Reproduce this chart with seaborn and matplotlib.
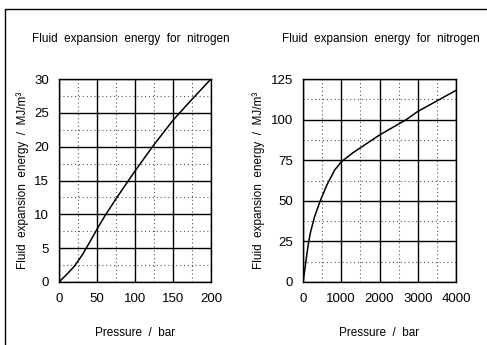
import matplotlib
matplotlib.use("Agg")
import matplotlib.pyplot as plt
import seaborn as sns
import pandas as pd
from matplotlib.lines import Line2D
from matplotlib.ticker import MultipleLocator

# Data
p_low = [0, 10, 20, 30, 40, 50, 60, 75, 100, 125, 150, 175, 200]
e_low = [0, 1.1, 2.3, 3.9, 5.8, 7.8, 9.7, 12.3, 16.4, 20.3, 23.9, 27.0, 30.0]
p_high = [0, 50, 100, 150, 200, 300, 450, 630, 830, 1000, 1300, 2000, 2700, 3000, 3500, 4000]
e_high = [0, 8, 17, 25, 31, 40, 50, 60, 69, 74, 79.5, 90.5, 100, 105, 111.5, 118]

title = "Fluid  expansion  energy  for  nitrogen"
xlabel = "Pressure  /  bar"
ylabel = "Fluid  expansion  energy  /  MJ/m³"

sns.set_theme(style="white")
plt.rcParams["font.family"] = ["Liberation Sans", "DejaVu Sans"]

W, H = 487, 345
fig = plt.figure(figsize=(W / 100, H / 100), dpi=100)
fig.patch.set_facecolor("white")

def make_ax(left, right, top, bottom):
    return fig.add_axes([left / W, 1 - bottom / H, (right - left) / W, (bottom - top) / H])

ax1 = make_ax(59, 211, 79, 282)
ax2 = make_ax(303, 456, 79, 282)

df1 = pd.DataFrame({"p": p_low, "e": e_low})
df2 = pd.DataFrame({"p": p_high, "e": e_high})

specs = [
    (ax1, df1, (0, 200), (0, 30), 50, 5, 131),
    (ax2, df2, (0, 4000), (0, 125), 1000, 25, 381),
]
for ax, df, xl, yl, xmaj, ymaj, tx in specs:
    ax.set_xlim(*xl)
    ax.set_ylim(*yl)
    ax.xaxis.set_major_locator(MultipleLocator(xmaj))
    ax.yaxis.set_major_locator(MultipleLocator(ymaj))
    ax.xaxis.set_minor_locator(MultipleLocator(xmaj / 2))
    ax.yaxis.set_minor_locator(MultipleLocator(ymaj / 2))
    ax.grid(which="major", color="black", linewidth=1.0, linestyle="-")
    ax.grid(which="minor", color="#555555", linewidth=0.8, linestyle=(0, (1, 2.5)))
    ax.set_axisbelow(True)
    sns.lineplot(data=df, x="p", y="e", ax=ax, color="black", linewidth=1.1)
    for s in ax.spines.values():
        s.set_color("black")
        s.set_linewidth(1.0)
    ax.tick_params(which="both", length=0, labelsize=9.5, colors="black")
    ax.tick_params(axis="x", pad=8)
    ax.tick_params(axis="y", pad=7)
    ax.set_xlabel(xlabel, fontsize=8.5, labelpad=16, color="black")
    ax.set_ylabel(ylabel, fontsize=8.5, labelpad=4, color="black")
    fig.text(tx / W, 1 - 39 / H, title, ha="center", va="center", fontsize=8.5, color="black")

# outer frame lines
fig.add_artist(Line2D([5 / W, 5 / W], [0, 1 - 9 / H], color="black", linewidth=1.0))
fig.add_artist(Line2D([5 / W, 1], [1 - 9 / H, 1 - 9 / H], color="black", linewidth=1.0))

fig.savefig("out.png", dpi=100, facecolor="white")
